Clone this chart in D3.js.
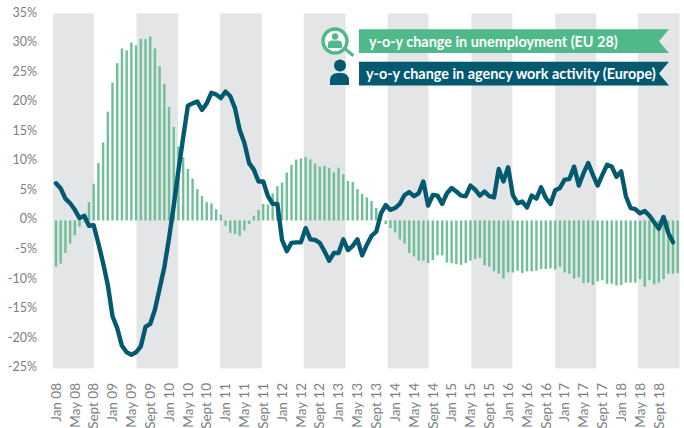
<!DOCTYPE html>
<html>
<head>
<meta charset="utf-8">
<script src="https://cdn.jsdelivr.net/npm/d3@7"></script>
<style>
  html, body { margin: 0; padding: 0; background: #fff; }
  text { font-family: Lato, "Open Sans", sans-serif; }
</style>
</head>
<body>
<svg id="chart" width="684" height="428"></svg>
<script>
// y-o-y change in unemployment (EU 28), monthly from Jan 08
const unemployment = [
  -7.8, -7.3, -5.5, -3.9, -2.5, -1.0, -0.2, 3.1, 6.2, 9.7, 13.2, 18.4,
  23.3, 26.6, 29.1, 28.8, 30.1, 29.6, 30.7, 30.7, 31.1, 29.1, 26.1, 23.1,
  19.2, 15.8, 12.5, 10.7, 8.7, 7.1, 5.3, 4.1, 3.1, 2.9, 1.9, 1.0,
  -0.85, -2.1, -2.3, -2.6, -1.7, -0.6, 0.8, 1.8, 2.8, 2.7, 4.6, 5.8,
  6.4, 8.1, 9.4, 10.3, 10.5, 10.7, 10.3, 9.6, 9.1, 9.2, 8.9, 8.1,
  8.9, 7.8, 6.7, 6.5, 5.3, 4.5, 3.9, 3.3, 2.1, 1.2, -0.6, -1.3,
  -2.0, -3.2, -3.9, -5.5, -6.1, -6.8, -6.8, -7.2, -6.7, -5.9, -5.9, -7.1,
  -7.2, -7.4, -7.5, -7.2, -6.8, -6.5, -6.3, -7.6, -7.8, -8.6, -9.0, -9.8,
  -8.8, -8.8, -8.5, -8.9, -8.6, -8.6, -8.5, -8.2, -8.2, -8.1, -8.3, -7.8,
  -8.8, -9.0, -9.8, -9.6, -10.6, -10.5, -10.9, -10.3, -10.1, -10.7, -10.7, -11.0,
  -10.9, -10.5, -10.5, -10.5, -9.9, -11.2, -10.1, -10.8, -10.5, -9.9, -9.0, -9.0,
  -8.9
];

// y-o-y change in agency work activity (Europe)
const agencyWork = [
  6.3, 5.4, 3.7, 2.9, 1.8, 0.4, 0.8, -0.9, -0.8, -3.9, -7.2, -10.9,
  -16.2, -18.2, -21.2, -22.3, -22.7, -22.3, -21.3, -18.0, -17.5, -15.1, -11.5, -7.9,
  -3.0, 2.5, 8.5, 14.0, 19.4, 19.8, 20.1, 18.7, 19.8, 21.6, 21.3, 20.7,
  21.8, 21.0, 19.0, 15.3, 13.1, 9.7, 8.6, 6.6, 6.6, 4.1, 2.8, 2.8,
  -3.3, -5.2, -3.8, -3.7, -3.7, -1.3, -3.2, -3.3, -3.8, -5.2, -6.8, -5.5,
  -5.5, -3.2, -5.0, -4.3, -3.2, -5.9, -4.1, -2.6, -1.9, 1.2, 2.6, 1.8,
  2.1, 2.8, 4.3, 4.8, 4.1, 4.6, 6.6, 2.5, 4.3, 4.2, 2.8, 4.6,
  5.5, 4.9, 4.2, 4.1, 5.9, 5.2, 4.2, 4.9, 4.1, 3.9, 8.7, 6.6,
  9.0, 4.3, 2.9, 3.2, 2.2, 4.2, 3.7, 5.6, 3.8, 2.8, 5.1, 5.5,
  6.9, 7.0, 9.1, 5.9, 8.0, 9.7, 7.7, 5.9, 7.7, 9.4, 9.1, 7.4,
  8.3, 4.1, 2.1, 1.9, 1.2, 1.6, 0.8, -0.3, -1.4, 0.6, -2.1, -3.7
];

const monthTicks = [
  'Jan 08', 'May 08', 'Sept 08', 'Jan 09', 'May 09', 'Sept 09', 'Jan 10', 'May 10', 'Sept 10',
  'Jan 11', 'May 11', 'Sept 11', 'Jan 12', 'May 12', 'Sept 12', 'Jan 13', 'May 13', 'Sept 13',
  'Jan 14', 'May 14', 'Sept 14', 'Jan 15', 'May 15', 'Sept 15', 'Jan 16', 'May 16', 'Sept 16',
  'Jan 17', 'May 17', 'Sept 17', 'Jan 18', 'May 18', 'Sept 18'
];

const percentTicks = [35, 30, 25, 20, 15, 10, 5, 0, -5, -10, -15, -20, -25];

// shaded periods, in months since Jan 08
const shadeStarts = [-0.64, 17.1, 34.8, 52.6, 70.4, 88.2, 106, 123.6];
const shadeEnds = [8.05, 25.9, 43.7, 61.5, 79.1, 96.9, 114.7, 132.4];

const legendLabels = ['y-o-y change in unemployment (EU 28)', 'y-o-y change in agency work activity (Europe)'];

const green = '#4fb98a';
const barGreen = '#6fbf98';
const navy = '#035a70';
const grey = '#e4e5e7';
const textGrey = '#7a7f82';

const svg = d3.select('#chart');

const xScale = d3.scaleLinear().domain([0, 132]).range([56, 677.7]);
const yScale = d3.scaleLinear().domain([-25, 35]).range([368.3, 13.5]);

// shaded bands
svg.append('g').selectAll('rect')
    .data(shadeStarts)
    .enter()
    .append('rect')
    .attr('x', d => xScale(d))
    .attr('width', (d, i) => xScale(shadeEnds[i]) - xScale(d))
    .attr('y', yScale(35))
    .attr('height', yScale(-25) - yScale(35))
    .attr('fill', grey);

// unemployment bars
svg.append('g').selectAll('rect')
    .data(unemployment)
    .enter()
    .append('rect')
    .attr('x', (d, i) => xScale(i) - 1.2)
    .attr('width', 2.4)
    .attr('y', d => yScale(Math.max(d, 0)))
    .attr('height', d => Math.abs(yScale(d) - yScale(0)))
    .attr('fill', barGreen);

// agency work line
const line = d3.line()
    .x((d, i) => xScale(i))
    .y(d => yScale(d));

svg.append('path')
    .datum(agencyWork)
    .attr('d', line)
    .attr('fill', 'none')
    .attr('stroke', navy)
    .attr('stroke-width', 4.4)
    .attr('stroke-linejoin', 'round')
    .attr('stroke-linecap', 'round');

// axes
const yAxis = d3.axisLeft(yScale)
    .tickValues(percentTicks)
    .tickFormat(d => d + '%')
    .tickSize(0)
    .tickPadding(0);

const yG = svg.append('g')
    .attr('transform', 'translate(37 , -1.5)')
    .call(yAxis);
yG.select('.domain').remove();
yG.selectAll('text')
    .attr('fill', textGrey)
    .style('font-size', '12.5px');

const xAxis = d3.axisBottom(xScale)
    .tickValues(monthTicks.map((d, i) => i * 4))
    .tickFormat((d, i) => monthTicks[i])
    .tickSize(0);

const xG = svg.append('g')
    .attr('transform', 'translate(-0.5 , 383)')
    .call(xAxis);
xG.select('.domain').remove();
xG.selectAll('text')
    .attr('transform', 'rotate(-90)')
    .attr('text-anchor', 'end')
    .attr('x', 0)
    .attr('y', 0)
    .attr('dy', '0.35em')
    .attr('fill', textGrey)
    .style('font-size', '13.5px');

// legend ribbons
const ribbon = (top, h) => {
    const l = 359, r = 669, notch = 10;
    return 'M' + l + ',' + top + 'H' + r + 'L' + (r - notch) + ',' + (top + h / 2) + 'L' + r + ',' + (top + h) + 'H' + l + 'Z';
};

svg.append('path').attr('d', ribbon(29.3, 23.7)).attr('fill', green);
svg.append('path').attr('d', ribbon(61.7, 23.7)).attr('fill', navy);

svg.append('text')
    .attr('x', 369)
    .attr('y', 46.5)
    .attr('fill', '#fff')
    .style('font-size', '14.4px')
    .style('font-weight', 700)
    .text(legendLabels[0]);

svg.append('text')
    .attr('x', 366)
    .attr('y', 79)
    .attr('fill', '#fff')
    .style('font-size', '14.4px')
    .style('font-weight', 700)
    .text(legendLabels[1]);

// magnifier icon
const icon = svg.append('g');
icon.append('line')
    .attr('x1', 344).attr('y1', 48).attr('x2', 352.5).attr('y2', 55)
    .attr('stroke', green).attr('stroke-width', 3).attr('stroke-linecap', 'round');
icon.append('circle')
    .attr('cx', 335).attr('cy', 41).attr('r', 12)
    .attr('fill', '#fff').attr('stroke', green).attr('stroke-width', 3.4);
icon.append('circle')
    .attr('cx', 335).attr('cy', 36.5).attr('r', 3.2).attr('fill', green);
icon.append('path')
    .attr('d', 'M328,48 V44 Q328,40.5 332,40.5 H338 Q342,40.5 342,44 V48 Z')
    .attr('fill', green);

// person icon
const person = svg.append('g');
person.append('circle')
    .attr('cx', 340).attr('cy', 65.5).attr('r', 6).attr('fill', navy);
person.append('path')
    .attr('d', 'M330,85 V81 Q330,73 338,73 H341 Q349,73 349,81 V85 Z')
    .attr('fill', navy);
</script>
</body>
</html>
